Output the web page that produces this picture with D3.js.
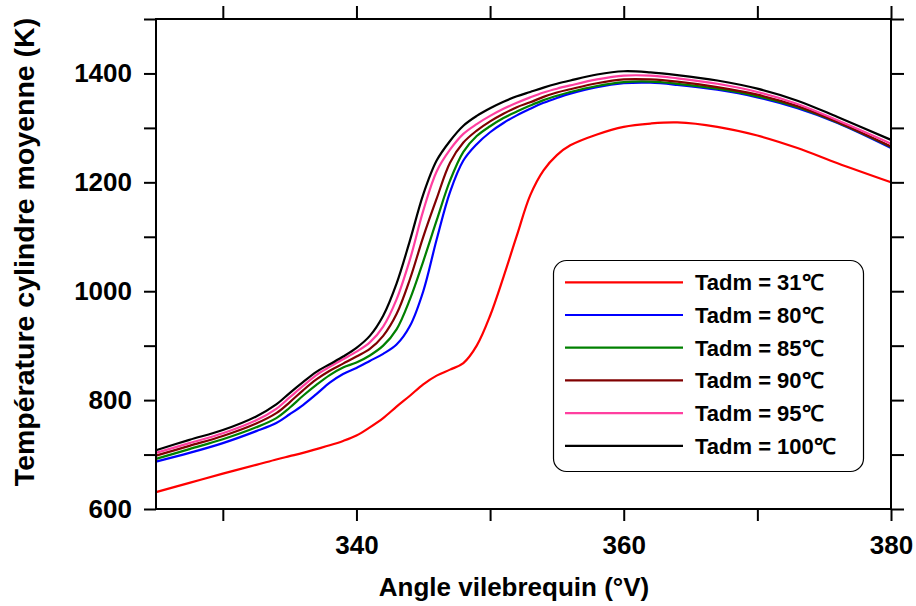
<!DOCTYPE html>
<html><head><meta charset="utf-8">
<script src="https://cdn.jsdelivr.net/npm/d3@7/dist/d3.min.js"></script>
<style>body{margin:0;background:#fff}svg{display:block}</style>
</head><body>
<svg id="chart" width="916" height="606"></svg>
<script>
// Crank angle (°V)
const angles = [325, 327.5, 330, 332.5, 334, 335, 336, 337, 338, 339, 340, 341, 342, 343, 344, 345, 346, 347, 348, 349, 350, 351, 352, 353, 354, 355, 356, 358, 360, 362, 364, 367, 370, 373, 376, 380];

// Mean cylinder temperature (K) per intake temperature
const tadm31  = [631, 648, 665, 681, 691, 697, 703, 710, 717, 725, 735, 750, 767, 788, 808, 829, 845, 856, 868, 900, 955, 1026, 1102, 1176, 1222, 1250, 1268, 1288, 1302, 1308, 1310, 1302, 1286, 1263, 1235, 1200];
const tadm80  = [687, 703, 721, 743, 758, 774, 791, 811, 832, 848, 859, 872, 885, 902, 936, 1000, 1095, 1182, 1240, 1270, 1292, 1309, 1323, 1335, 1346, 1355, 1363, 1375, 1382, 1383, 1379, 1370, 1356, 1336, 1309, 1263];
const tadm85  = [692, 710, 728, 750, 767, 786, 808, 828, 846, 860, 869, 882, 900, 930, 985, 1055, 1130, 1203, 1256, 1285, 1303, 1318, 1330, 1341, 1351, 1359, 1366, 1377, 1384, 1385, 1381, 1372, 1358, 1338, 1310, 1265];
const tadm90  = [698, 716, 734, 757, 776, 796, 818, 838, 854, 867, 880, 894, 918, 958, 1022, 1100, 1170, 1236, 1273, 1295, 1312, 1326, 1338, 1347, 1357, 1365, 1371, 1382, 1389, 1389, 1385, 1375, 1361, 1340, 1311, 1266];
const tadm95  = [703, 721, 739, 763, 784, 805, 826, 846, 861, 875, 889, 906, 935, 985, 1058, 1148, 1220, 1260, 1289, 1307, 1322, 1335, 1346, 1356, 1365, 1372, 1378, 1389, 1396, 1396, 1391, 1381, 1366, 1344, 1314, 1271];
const tadm100 = [708, 727, 745, 770, 792, 813, 833, 852, 866, 880, 896, 918, 955, 1014, 1093, 1178, 1240, 1276, 1304, 1322, 1336, 1348, 1358, 1366, 1374, 1381, 1387, 1398, 1404, 1402, 1397, 1387, 1372, 1350, 1320, 1278];

const seriesNames  = ["Tadm = 31℃", "Tadm = 80℃", "Tadm = 85℃", "Tadm = 90℃", "Tadm = 95℃", "Tadm = 100℃"];
const seriesValues = [tadm31, tadm80, tadm85, tadm90, tadm95, tadm100];
const seriesColors = ["#ff0000", "#0000ff", "#008000", "#800000", "#ff3fa0", "#000000"];

const xDomain = [325, 380];
const yDomain = [600, 1500];
const xTicks = [330, 340, 350, 360, 370, 380];
const xTickLabels = ["", "340", "", "360", "", "380"];
const yTicks = [600, 700, 800, 900, 1000, 1100, 1200, 1300, 1400, 1500];
const yTickLabels = ["600", "", "800", "", "1000", "", "1200", "", "1400", ""];

const xTitle = "Angle vilebrequin (°V)";
const yTitle = "Température cylindre moyenne (K)";

const svg = d3.select("#chart");
const pL = 156, pR = 891, pT = 19, pB = 509;
const x = d3.scaleLinear().domain(xDomain).range([pL, pR]);
const y = d3.scaleLinear().domain(yDomain).range([pB, pT]);
const font = "'Liberation Sans', Arial, sans-serif";

// series
const line = d3.line().x(d => x(d[0])).y(d => y(d[1])).curve(d3.curveCatmullRom.alpha(0.5));
const plot = svg.append("g");
seriesValues.forEach((vals, i) => {
  plot.append("path")
    .datum(angles.map((a, j) => [a, vals[j]]))
    .attr("fill", "none")
    .attr("stroke", seriesColors[i])
    .attr("stroke-width", 2.2)
    .attr("stroke-linejoin", "round")
    .attr("d", line);
});

// axes
function styleAxis(g) {
  g.select(".domain").remove();
  g.selectAll(".tick line").attr("stroke", "#000").attr("stroke-width", 2);
  g.selectAll(".tick text").attr("fill", "#000").style("font-family", font)
    .style("font-size", "26px").style("font-weight", "bold");
}
const axB = svg.append("g").attr("transform", `translate(0,${pB})`)
  .call(d3.axisBottom(x).tickValues(xTicks).tickSize(12).tickPadding(10)
    .tickFormat((d, i) => xTickLabels[i]));
styleAxis(axB);
axB.selectAll(".tick text").attr("dy", "0.9em");
const axT = svg.append("g").attr("transform", `translate(0,${pT})`)
  .call(d3.axisTop(x).tickValues(xTicks).tickSize(13).tickFormat(""));
styleAxis(axT);
const axL = svg.append("g").attr("transform", `translate(${pL},0)`)
  .call(d3.axisLeft(y).tickValues(yTicks).tickSize(12).tickPadding(12)
    .tickFormat((d, i) => yTickLabels[i]));
styleAxis(axL);
const axR = svg.append("g").attr("transform", `translate(${pR},0)`)
  .call(d3.axisRight(y).tickValues(yTicks).tickSize(13).tickFormat(""));
styleAxis(axR);

// frame
svg.append("rect").attr("x", pL).attr("y", pT).attr("width", pR - pL).attr("height", pB - pT)
  .attr("fill", "none").attr("stroke", "#000").attr("stroke-width", 2);

// titles
svg.append("text").attr("x", 514).attr("y", 596).attr("text-anchor", "middle")
  .style("font-family", font).style("font-size", "26px").style("font-weight", "bold")
  .text(xTitle);
svg.append("text").attr("transform", "translate(34,252) rotate(-90)").attr("text-anchor", "middle")
  .style("font-family", font).style("font-size", "28.5px").style("font-weight", "bold")
  .text(yTitle);

// legend
const lg = svg.append("g");
lg.append("rect").attr("x", 553.5).attr("y", 260.5).attr("width", 310).attr("height", 211)
  .attr("rx", 13).attr("fill", "#fff").attr("stroke", "#000").attr("stroke-width", 1.2);
seriesNames.forEach((name, i) => {
  const ry = 282.3 + i * 32.7;
  lg.append("line").attr("x1", 565).attr("x2", 683).attr("y1", ry).attr("y2", ry)
    .attr("stroke", seriesColors[i]).attr("stroke-width", 2.2);
  lg.append("text").attr("x", 695).attr("y", ry + 8)
    .style("font-family", font).style("font-size", "22px").style("font-weight", "bold")
    .text(name);
});
</script>
</body></html>
